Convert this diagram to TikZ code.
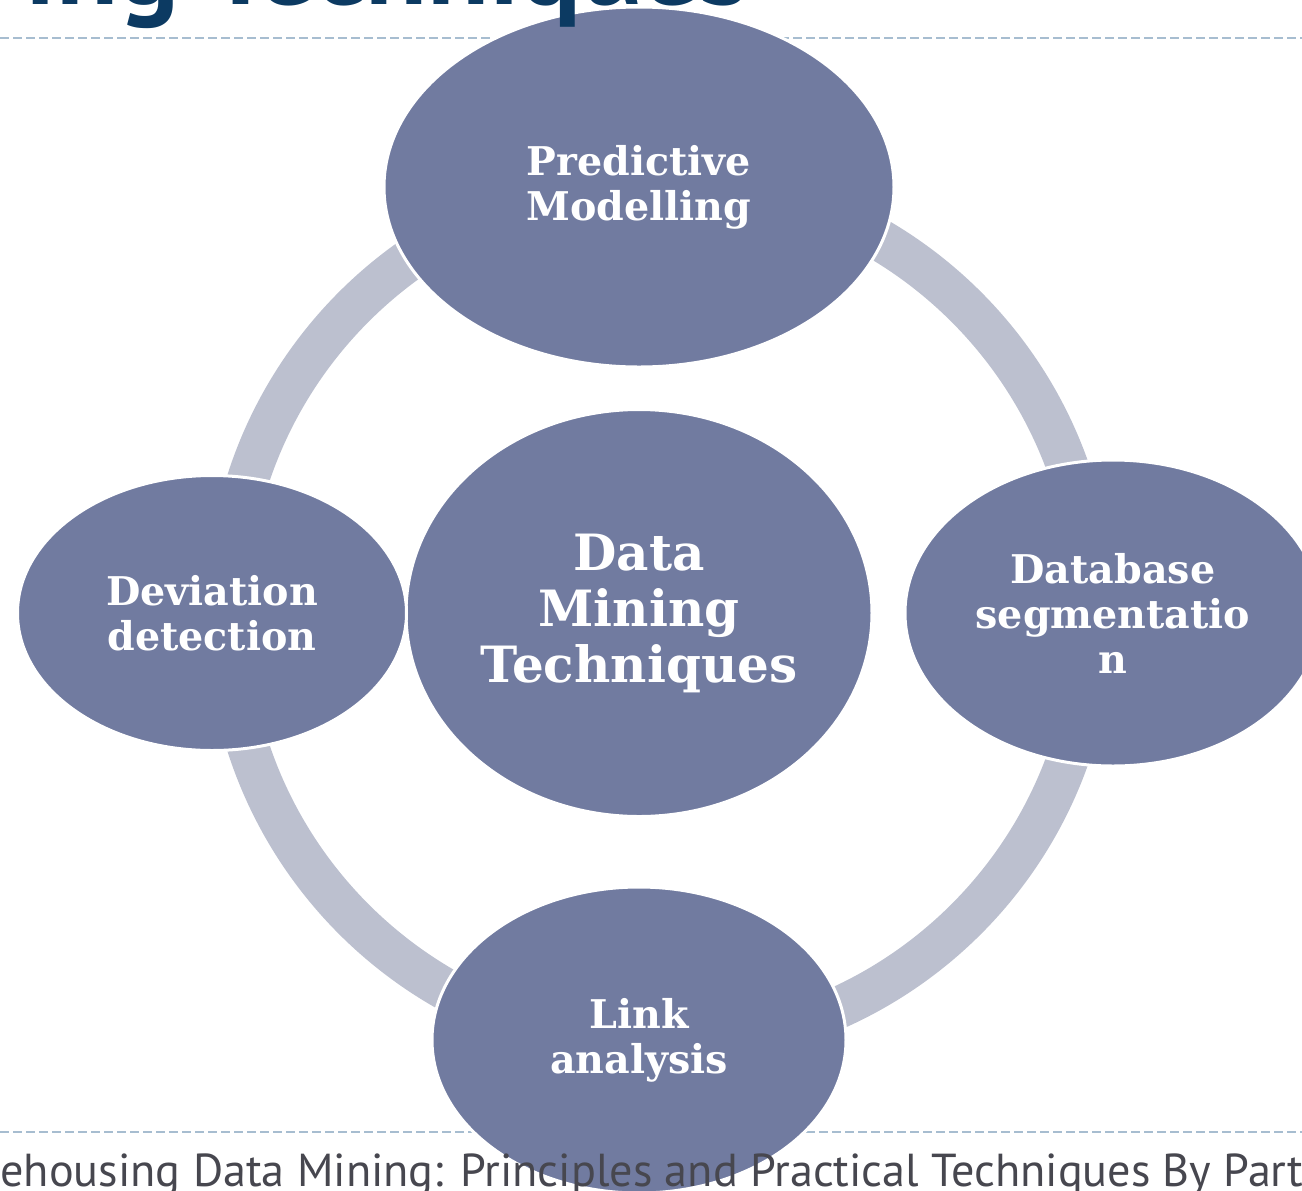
\documentclass[tikz,border=0pt]{standalone}
\usepackage{fontspec}
\usepackage{xcolor}
\usepackage{tikz}
\usetikzlibrary{shapes.geometric}

\newfontfamily\slabfont{DejaVu Serif}
\newfontfamily\slidefont{PT Sans}

\definecolor{bubblefill}{HTML}{717BA0}
\definecolor{ringfill}{HTML}{BCC0CF}
\definecolor{rulecol}{HTML}{A7BDD0}
\definecolor{titleblue}{HTML}{0C3A62}
\definecolor{footgray}{HTML}{47474F}

\begin{document}
\begin{tikzpicture}[x=0.5pt, y=-0.5pt,
    bubble/.style={ellipse, fill=bubblefill, draw=white, line width=1.5pt, inner sep=0pt,
      align=center, text=white, font=\slabfont\bfseries\fontsize{19.8pt}{22.5pt}\selectfont},
    ringline/.style={draw=ringfill, line width=21pt},
    slideline/.style={draw=rulecol, line width=1pt, dash pattern=on 4.5pt off 2pt}]
  \useasboundingbox (0,0) rectangle (1302,1190);

  % slide rules behind the cycle
  \draw[slideline] (0,38) -- (1302,38);
  \draw[slideline] (0,1132) -- (1302,1132);

  % ring joining the outer bubbles
  \coordinate (hub) at (660,613);
  \draw[ringline] (hub) circle[radius=433];

  % bubbles
  \node[bubble, minimum width=255pt, minimum height=180pt] (predict) at (639,187) {Predictive\\Modelling};
  \node[bubble, minimum width=233pt, minimum height=203.5pt,
        font=\slabfont\bfseries\fontsize{25pt}{28pt}\selectfont] (core) at (639,613) {Data\\Mining\\Techniques};
  \node[bubble, minimum width=208pt, minimum height=153pt] (segment) at (1113,613) {Database\\segmentatio\\n};
  \node[bubble, minimum width=207pt, minimum height=153pt] (link) at (639,1040) {Link\\analysis};
  \node[bubble, minimum width=194.5pt, minimum height=137.5pt] (deviate) at (212,613) {Deviation\\detection};

  % slide title and footer, cut by the page edge
  \node[anchor=base east, inner sep=0pt, text=titleblue,
        font=\slidefont\bfseries\fontsize{57pt}{64pt}\selectfont] (title) at (749,4) {ing Techniques};
  \node[anchor=base west, inner sep=0pt, text=footgray,
        font=\slidefont\fontsize{23.1pt}{27pt}\selectfont] (footer) at (0,1186)
        {ehousing Data Mining: Principles and Practical Techniques By Part};
\end{tikzpicture}
\end{document}
